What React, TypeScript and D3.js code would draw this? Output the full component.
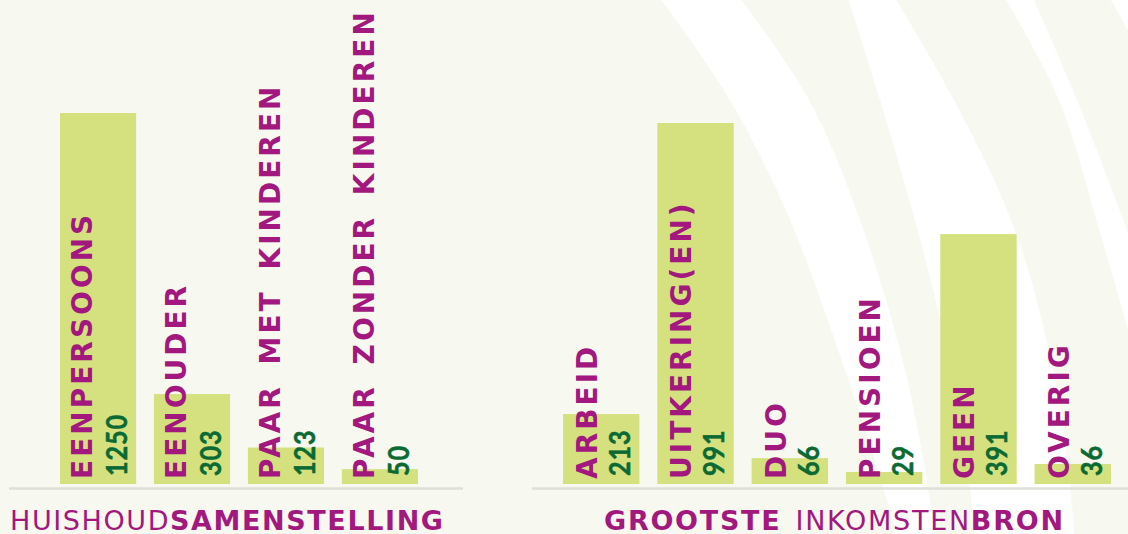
import React from 'react';
import * as d3 from 'd3';

const W = 1128;
const H = 534;

// ---- data ----
const householdCategories = ['EENPERSOONS', 'EENOUDER', 'PAAR MET KINDEREN', 'PAAR ZONDER KINDEREN'];
const householdValues = [1250, 303, 123, 50];

const incomeCategories = ['ARBEID', 'UITKERING(EN)', 'DUO', 'PENSIOEN', 'GEEN', 'OVERIG'];
const incomeValues = [213, 991, 66, 29, 391, 36];
// bar lengths as drawn in the source infographic (in units of the 991 bar)
const incomeBarLengths = [192, 991, 71, 33, 686, 55];

const titleLeft = ['HUISHOUD', 'SAMENSTELLING'];
const titleRight = ['GROOTSTE', 'INKOMSTEN', 'BRON'];

// ---- style ----
const BG = '#f7f8ef';
const BAR = '#d4e17e';
const MAGENTA = '#a2187e';
const GREEN = '#0b6a34';
const RULE = '#dfdfd9';
const LABEL_FONT = '"DejaVu Sans", Verdana, sans-serif';
const NUM_FONT = 'Lato, "Open Sans", sans-serif';
const TITLE_FONT = '"DejaVu Sans", Verdana, sans-serif';

const baseY = 484;

// decorative white arcs (background ornament)
const bands: [number, number][][][] = [
  [
    [[660, -2], [730, 100], [790, 220], [845, 370], [887, 500], [897, 540]],
    [[740, -2], [809, 100], [860, 220], [905, 370], [930, 500], [935, 540]],
  ],
  [
    [[848, -2], [880, 100], [915, 220], [940, 317], [960, 400], [975, 540]],
    [[895, -2], [954, 100], [1016, 233], [1059, 400], [1075, 540]],
  ],
  [
    [[1005, -2], [1059, 100], [1100, 233], [1128, 330], [1140, 380]],
    [[1033, -2], [1077, 100], [1128, 233], [1140, 270]],
  ],
  [
    [[1110, -2], [1125, 25], [1140, 50]],
    [[1140, -2], [1140, 0], [1140, 50]],
  ],
];

function bandPath(edges: [number, number][][]) {
  const line = d3.line<[number, number]>().curve(d3.curveCatmullRom);
  const left = line(edges[0]) || '';
  const right = line([...edges[1]].reverse()) || '';
  return left + 'L' + right.slice(1) + 'Z';
}

type PanelProps = {
  cats: string[];
  values: number[];
  lengths: number[];
  x0: number;
  x1: number;
  yTop: number;
  labelOff: number;
};

function Panel({ cats, values, lengths, x0, x1, yTop, labelOff }: PanelProps) {
  const x = d3.scaleBand<string>().domain(cats).range([x0, x1]).paddingInner(0.19).paddingOuter(0);
  const y = d3.scaleLinear().domain([0, d3.max(lengths) as number]).range([baseY, yTop]);
  const bw = x.bandwidth();
  return (
    <g>
      {cats.map((c, i) => {
        const bx = x(c) as number;
        return (
          <g key={c}>
            <rect x={bx} y={y(lengths[i])} width={bw} height={baseY - y(lengths[i])} fill={BAR} />
            <text
              transform={`translate(${bx + labelOff},479) rotate(-90)`}
              fill={MAGENTA}
              fontFamily={LABEL_FONT}
              fontWeight={700}
              fontSize={28}
              letterSpacing={3}
              wordSpacing={7}
            >
              {c}
            </text>
            <text
              transform={`translate(${bx + 67},476) rotate(-90) scale(0.9,1)`}
              fill={GREEN}
              stroke={GREEN}
              strokeWidth={0.5}
              fontFamily={NUM_FONT}
              fontWeight={700}
              fontSize={28}
              letterSpacing={1}
            >
              {values[i]}
            </text>
          </g>
        );
      })}
    </g>
  );
}

export default function App() {
  return (
    <svg
      width={W}
      height={H}
      viewBox={`0 0 ${W} ${H}`}
      style={{ position: 'absolute', left: 0, top: 0, display: 'block' }}
    >
      <rect x={0} y={0} width={W} height={H} fill={BG} />
      {bands.map((b, i) => (
        <path key={i} d={bandPath(b)} fill="#ffffff" />
      ))}

      <Panel
        cats={householdCategories}
        values={householdValues}
        lengths={householdValues}
        x0={60}
        x1={418}
        yTop={113}
        labelOff={32}
      />
      <Panel
        cats={incomeCategories}
        values={incomeValues}
        lengths={incomeBarLengths}
        x0={563}
        x1={1111}
        yTop={123}
        labelOff={34}
      />

      <line x1={9} x2={463} y1={488.5} y2={488.5} stroke={RULE} strokeWidth={2.5} />
      <line x1={532} x2={1128} y1={488.5} y2={488.5} stroke={RULE} strokeWidth={2.5} />

      <text
        x={10}
        y={530}
        fill={MAGENTA}
        fontFamily={TITLE_FONT}
        fontSize={27}
        textLength={433}
        lengthAdjust="spacing"
      >
        <tspan fontWeight={400}>{titleLeft[0]}</tspan>
        <tspan fontWeight={700}>{titleLeft[1]}</tspan>
      </text>
      <text
        x={604}
        y={530}
        fill={MAGENTA}
        fontFamily={TITLE_FONT}
        fontSize={27}
        textLength={459}
        lengthAdjust="spacing"
      >
        <tspan fontWeight={700}>{titleRight[0]}</tspan>
        <tspan fontWeight={400} dx={14}>{titleRight[1]}</tspan>
        <tspan fontWeight={700}>{titleRight[2]}</tspan>
      </text>
    </svg>
  );
}
